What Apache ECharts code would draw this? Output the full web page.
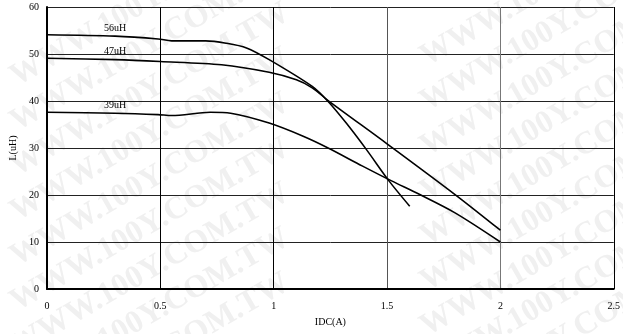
<!DOCTYPE html>
<html>
<head>
<meta charset="utf-8">
<script src="https://cdn.jsdelivr.net/npm/echarts@6/dist/echarts.min.js"></script>
<style>html,body{margin:0;padding:0;background:#fff;}#c{width:623px;height:334px;}</style>
</head>
<body>
<div id="c"></div>
<script>
// ---- data ----
var xTicks = [0, 0.5, 1, 1.5, 2, 2.5];
var yTicks = [0, 10, 20, 30, 40, 50, 60];
var seriesNames = ['56uH', '47uH', '39uH'];
var x56 = [0, 0.3, 0.49, 0.55, 0.7, 0.79, 0.88, 0.98, 1.17, 1.24, 1.32, 1.41, 1.51, 1.6];
var y56 = [54.1, 53.8, 53.2, 52.8, 52.8, 52.3, 51.3, 48.8, 43.1, 39.9, 35.3, 29.6, 22.9, 17.6];
var x47 = [0, 0.3, 0.5, 0.77, 0.98, 1.1, 1.17, 1.24, 1.5, 1.8, 2.0];
var y47 = [49.1, 48.8, 48.4, 47.7, 46.1, 44.5, 42.8, 40.1, 30.9, 20.1, 12.5];
var x39 = [0, 0.3, 0.49, 0.55, 0.72, 0.81, 0.98, 1.13, 1.24, 1.39, 1.52, 1.64, 1.8, 2.0];
var y39 = [37.6, 37.4, 37.1, 36.9, 37.6, 37.4, 35.3, 32.5, 30.0, 26.2, 23.0, 20.2, 16.2, 10.0];
var labelX = 0.3;
var watermark = 'WWW.100Y.COM.TW';

function pairs(xs, ys) { return xs.map(function (x, i) { return [x, ys[i]]; }); }
function valAt(xs, ys, x) { var i = xs.indexOf(x); return ys[i]; }

var font = '"Liberation Serif", "Times New Roman", serif';

var wm = [];
var leftYs = [0, 45, 90, 135, 180, 225, 270, 315, 360];
var rightYs = [-20, 25, 70, 115, 160, 205, 250, 295, 340];
leftYs.forEach(function (y) {
  wm.push({type: 'text', x: 150, y: y, rotation: Math.PI / 6, z: -100, silent: true,
    style: {text: watermark, font: 'bold 32px ' + font, fill: '#f0f0f0', align: 'center', verticalAlign: 'middle'}});
});
rightYs.forEach(function (y) {
  wm.push({type: 'text', x: 560, y: y, rotation: Math.PI / 6, z: -100, silent: true,
    style: {text: watermark, font: 'bold 32px ' + font, fill: '#f0f0f0', align: 'center', verticalAlign: 'middle'}});
});

var data = [pairs(x56, y56), pairs(x47, y47), pairs(x39, y39)];
var xsAll = [x56, x47, x39], ysAll = [y56, y47, y39];

var chart = echarts.init(document.getElementById('c'), null, {renderer: 'canvas'});
chart.setOption({
  backgroundColor: '#fff',
  animation: false,
  graphic: wm,
  grid: {left: 47, right: 8, top: 7, bottom: 45, containLabel: false},
  xAxis: {
    type: 'value', min: xTicks[0], max: xTicks[xTicks.length - 1], interval: 0.5,
    name: 'IDC(A)', nameLocation: 'middle', nameGap: 28,
    nameTextStyle: {fontFamily: font, fontSize: 10, color: '#000'},
    axisLine: {show: true, lineStyle: {color: '#000', width: 2}},
    axisTick: {show: false},
    axisLabel: {fontFamily: font, fontSize: 10, color: '#000', margin: 12},
    splitLine: {show: true, lineStyle: {color: ['#000', '#000', '#000', '#555', '#777', '#000'], width: 1}}
  },
  yAxis: {
    type: 'value', min: yTicks[0], max: yTicks[yTicks.length - 1], interval: 10,
    name: 'L(uH)', nameLocation: 'middle', nameGap: 24,
    nameTextStyle: {fontFamily: font, fontSize: 10, color: '#000'},
    axisLine: {show: true, lineStyle: {color: '#000', width: 2}},
    axisTick: {show: false},
    axisLabel: {fontFamily: font, fontSize: 10, color: '#000', margin: 8},
    splitLine: {show: true, lineStyle: {color: '#222', width: 1}}
  },
  series: seriesNames.map(function (n, i) {
    return {
      name: n, type: 'line', data: data[i], smooth: 0.3,
      showSymbol: false, symbol: 'none',
      lineStyle: {color: '#000', width: 1.6},
      markPoint: {
        symbol: 'circle', symbolSize: 0, silent: true,
        data: [{coord: [labelX, valAt(xsAll[i], ysAll[i], labelX)],
          label: {show: true, formatter: n, position: 'top', distance: 3,
            fontFamily: font, fontSize: 10, color: '#000'}}]
      }
    };
  })
});
</script>
</body>
</html>
